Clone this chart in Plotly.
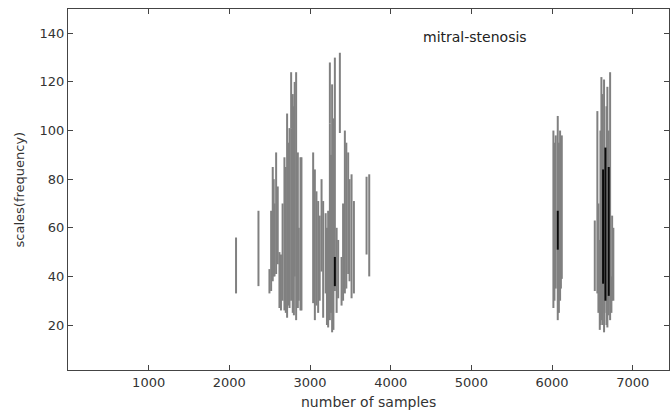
import plotly.graph_objects as go

# ---- data: vertical scalogram segments (sample position, low scale, high scale, shade) ----
seg_x = [2083, 2361,
         2497, 2518, 2538, 2550, 2560, 2580, 2600, 2621, 2640, 2660, 2683, 2700, 2716, 2730,
         2746, 2766, 2766, 2786, 2800, 2810, 2828, 2849, 2860, 2882, 2894,
         3039, 3060, 3080, 3101, 3120, 3143, 3163, 3194, 3210, 3225, 3246, 3246, 3260, 3274,
         3290, 3308, 3330, 3349, 3370, 3391, 3410, 3432, 3450, 3473, 3490, 3515, 3544,
         3701, 3734,
         6017, 6030, 6046, 6071, 6085, 6100, 6110, 6121,
         6530, 6562, 6575, 6592, 6600, 6612, 6625, 6645, 6650, 6675, 6686, 6700, 6720,
         6736, 6745, 6760,
         3308, 6071, 6633, 6662, 6703]
seg_lo = [33, 36,
          33, 34, 38, 40, 40, 41, 45, 27, 26, 30, 26, 25, 23, 28,
          27, 30, 101, 25, 24, 40, 22, 27, 30, 26, 26,
          29, 22, 28, 25, 30, 42, 23, 33, 20, 19, 22, 103, 25, 17,
          18, 34, 25, 31, 99, 28, 30, 33, 35, 41, 38, 31, 33,
          49, 40,
          27, 30, 35, 22, 25, 30, 35, 39,
          34, 33, 25, 18, 20, 22, 20, 17, 25, 20, 19, 24, 22,
          25, 30, 30,
          36, 51, 37, 30, 32]
seg_hi = [56, 67,
          43, 67, 85, 80, 70, 91, 77, 50, 49, 70, 89, 85, 107, 95,
          101, 101, 124, 115, 110, 120, 124, 91, 60, 89, 89,
          91, 84, 75, 71, 65, 80, 71, 66, 60, 67, 103, 128, 90, 119,
          105, 130, 60, 55, 132, 48, 70, 100, 95, 91, 80, 82, 71,
          81, 82,
          100, 95, 98, 106, 95, 100, 90, 98,
          63, 108, 70, 55, 100, 122, 115, 121, 80, 110, 118, 100, 124,
          40, 65, 60,
          48, 67, 84, 93, 85]
seg_shade = ["gray"] * 80 + ["black"] * 5

x_ticks = [1000, 2000, 3000, 4000, 5000, 6000, 7000]
y_ticks = [20, 40, 60, 80, 100, 120, 140]
label_text = "mitral-stenosis"
x_title = "number of samples"
y_title = "scales(frequency)"

colors = {"gray": "rgb(128,128,128)", "black": "rgb(10,10,10)"}

fig = go.Figure()
for shade in ["gray", "black"]:
    xs, ys = [], []
    for x, lo, hi, s in zip(seg_x, seg_lo, seg_hi, seg_shade):
        if s == shade:
            xs += [x, x, None]
            ys += [lo, hi, None]
    fig.add_trace(go.Scatter(x=xs, y=ys, mode="lines",
                             line=dict(color=colors[shade], width=2),
                             hoverinfo="skip", showlegend=False))

font_family = "DejaVu Sans"
axis_common = dict(showline=True, mirror="ticks", linecolor="#444444", linewidth=1,
                   ticks="inside", ticklen=5, tickcolor="#444444", showgrid=False,
                   zeroline=False,
                   tickfont=dict(family=font_family, size=13, color="#333333"))

fig.update_layout(
    width=670, height=414,
    margin=dict(l=68, r=1, t=9, b=44),
    paper_bgcolor="white", plot_bgcolor="white",
    xaxis=dict(range=[0, 7450], tickvals=x_ticks, **axis_common),
    yaxis=dict(range=[1.5, 150], tickvals=y_ticks, **axis_common),
    annotations=[
        dict(x=5045, y=138.3, xref="x", yref="y", text=label_text, showarrow=False,
             font=dict(family=font_family, size=14, color="#222222")),
        dict(x=0.5, y=-0.089, xref="paper", yref="paper", text=x_title, showarrow=False,
             yanchor="middle", font=dict(family=font_family, size=14, color="#333333")),
        dict(x=-0.08, y=0.5, xref="paper", yref="paper", text=y_title, showarrow=False,
             textangle=-90, xanchor="center",
             font=dict(family=font_family, size=13, color="#333333")),
    ],
)

fig.write_html("out.html", config={"displayModeBar": False},
               post_script="document.body.style.margin='0';")
